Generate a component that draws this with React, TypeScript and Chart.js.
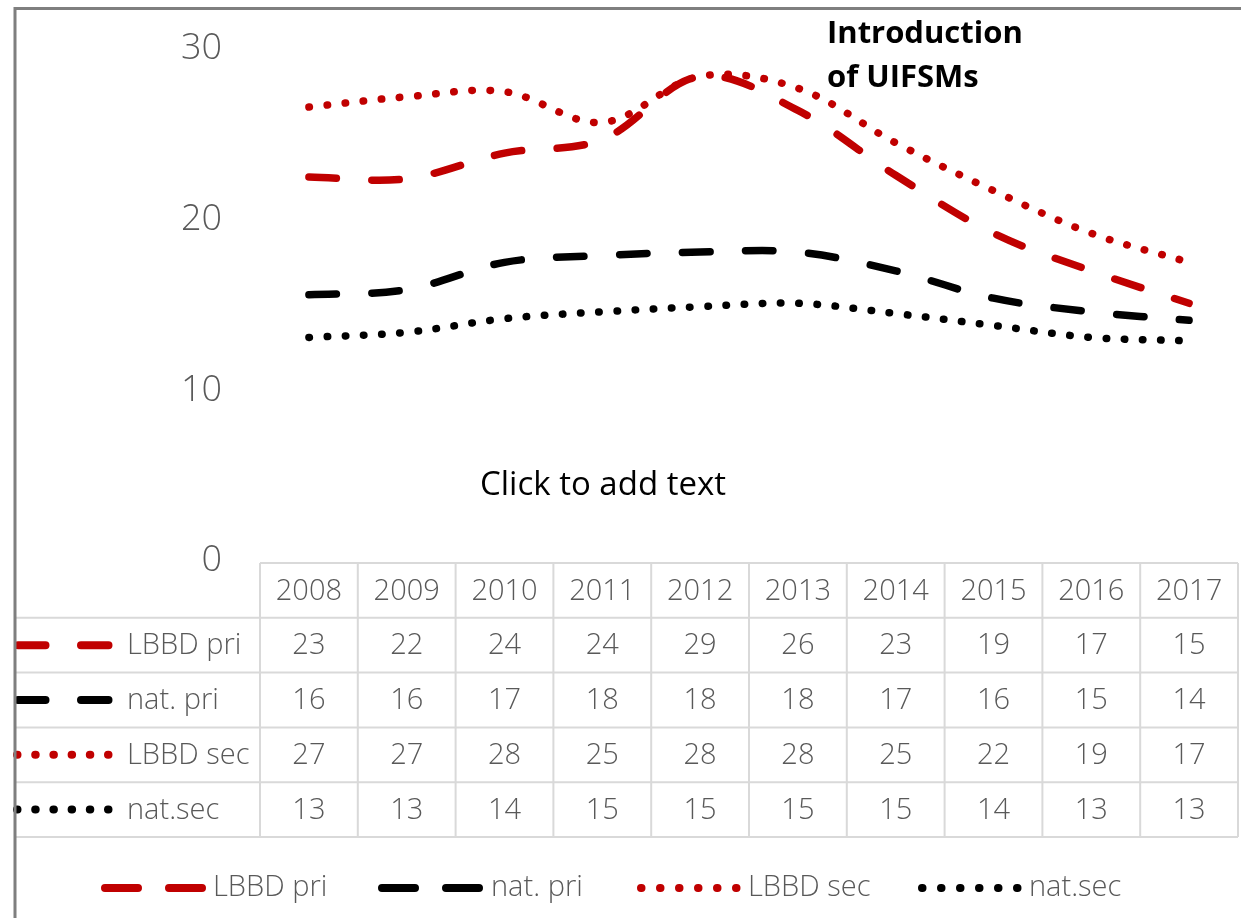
import React, { useEffect, useRef } from "react";
import { Chart, registerables } from "chart.js";

Chart.register(...registerables);

// ---- data ----
const years = ["2008", "2009", "2010", "2011", "2012", "2013", "2014", "2015", "2016", "2017"];
const seriesNames = ["LBBD pri", "nat. pri", "LBBD sec", "nat.sec"];

// plotted values
const lbbdPri = [22.5, 22.4, 23.9, 24.7, 28.4, 26.4, 22.6, 19.2, 17.0, 15.1];
const natPri = [15.6, 15.9, 17.5, 17.9, 18.1, 18.1, 17.0, 15.4, 14.6, 14.1];
const lbbdSec = [26.6, 27.2, 27.5, 25.7, 28.4, 27.7, 24.5, 21.7, 19.2, 17.5];
const natSec = [13.1, 13.4, 14.2, 14.6, 14.9, 15.1, 14.5, 13.8, 13.1, 12.9];

// values printed in the data table
const lbbdPriTable = ["23", "22", "24", "24", "29", "26", "23", "19", "17", "15"];
const natPriTable = ["16", "16", "17", "18", "18", "18", "17", "16", "15", "14"];
const lbbdSecTable = ["27", "27", "28", "25", "28", "28", "25", "22", "19", "17"];
const natSecTable = ["13", "13", "14", "15", "15", "15", "15", "14", "13", "13"];

const yMin = 0;
const yMax = 30;
const yStep = 10;

const annotationLines = ["Introduction", "of UIFSMs"];
const placeholderText = "Click to add text";

// ---- styles ----
const RED = "#C00000";
const BLACK = "#000000";
const GRAY_TEXT = "#595959";
const GRID = "#d9d9d9";
const FONT = "'Open Sans', 'DejaVu Sans', sans-serif";
const DASH = [27.5, 35.5];
const DOT = [0.5, 17.7];

const tableRows = [lbbdPriTable, natPriTable, lbbdSecTable, natSecTable];

// bottom legend placement (key start, text start)
const legendKeyX = [101, 378, 637, 918];
const legendTextX = [213, 491, 748, 1029];

function strokeKey(ctx: CanvasRenderingContext2D, ds: any, x0: number, x1: number, y: number, dash: number[]) {
  ctx.save();
  ctx.strokeStyle = ds.borderColor;
  ctx.lineWidth = 8;
  ctx.lineCap = "round";
  ctx.setLineDash(dash);
  ctx.beginPath();
  ctx.moveTo(x0, y);
  ctx.lineTo(x1, y);
  ctx.stroke();
  ctx.restore();
}

const decorPlugin = {
  id: "decor",
  afterDraw(chart: any) {
    const ctx: CanvasRenderingContext2D = chart.ctx;
    const x = chart.scales.x;
    const n = years.length;
    const colW = x.getPixelForValue(1) - x.getPixelForValue(0);
    const left = x.getPixelForValue(0) - colW / 2;
    const right = x.getPixelForValue(n - 1) + colW / 2;
    const tableTop = 563;
    const rowH = 54.8;
    const frameX = 15;

    // ---- data table grid ----
    ctx.save();
    ctx.strokeStyle = GRID;
    ctx.lineWidth = 2;
    ctx.beginPath();
    ctx.moveTo(left, tableTop);
    ctx.lineTo(right, tableTop);
    for (let k = 1; k <= 5; k++) {
      const yy = tableTop + rowH * k;
      ctx.moveTo(frameX, yy);
      ctx.lineTo(right, yy);
    }
    for (let i = 0; i <= n; i++) {
      const xx = left + colW * i;
      ctx.moveTo(xx, tableTop);
      ctx.lineTo(xx, tableTop + rowH * 5);
    }
    ctx.stroke();
    ctx.restore();

    // ---- table text ----
    ctx.save();
    ctx.fillStyle = GRAY_TEXT;
    ctx.font = `300 29px ${FONT}`;
    ctx.textAlign = "center";
    ctx.textBaseline = "middle";
    years.forEach((yr, i) => {
      ctx.fillText(yr, x.getPixelForValue(i), tableTop + rowH / 2 + 1);
    });
    tableRows.forEach((row, r) => {
      const yy = tableTop + rowH * (r + 1) + rowH / 2 + 1;
      row.forEach((v, i) => ctx.fillText(v, x.getPixelForValue(i), yy));
    });
    ctx.textAlign = "left";
    chart.data.datasets.forEach((ds: any, r: number) => {
      const yy = tableTop + rowH * (r + 1) + rowH / 2;
      const dotted = ds.borderDash[0] < 1;
      if (dotted) strokeKey(ctx, ds, 17, 109.5, yy, DOT);
      else strokeKey(ctx, ds, 18, 108.5, yy, DASH);
      ctx.fillStyle = GRAY_TEXT;
      ctx.fillText(seriesNames[r], 127, yy + 1);
    });
    ctx.restore();

    // ---- bottom legend ----
    ctx.save();
    ctx.font = `300 29px ${FONT}`;
    ctx.textBaseline = "middle";
    ctx.textAlign = "left";
    const ly = 888;
    chart.data.datasets.forEach((ds: any, r: number) => {
      const dotted = ds.borderDash[0] < 1;
      const kx = legendKeyX[r];
      if (dotted) strokeKey(ctx, ds, kx + 4, kx + 100.5, ly, [0.5, 18.5]);
      else strokeKey(ctx, ds, kx + 4, kx + 101, ly, [33, 31]);
      ctx.fillStyle = GRAY_TEXT;
      ctx.fillText(seriesNames[r], legendTextX[r], ly);
    });
    ctx.restore();

    // ---- annotation texts ----
    ctx.save();
    ctx.fillStyle = "#000";
    ctx.textAlign = "left";
    ctx.textBaseline = "alphabetic";
    ctx.font = `bold 31px ${FONT}`;
    ctx.fillText(annotationLines[0], 827, 43);
    ctx.fillText(annotationLines[1], 827, 87);
    ctx.font = `33px ${FONT}`;
    ctx.fillText(placeholderText, 480, 495);
    ctx.restore();

    // ---- outer frame (left and top) ----
    ctx.save();
    ctx.strokeStyle = "#7f7f7f";
    ctx.lineWidth = 3;
    ctx.beginPath();
    ctx.moveTo(frameX, chart.height);
    ctx.lineTo(frameX, 8.5);
    ctx.lineTo(chart.width, 8.5);
    ctx.stroke();
    ctx.restore();
  },
};

export default function App() {
  const ref = useRef<HTMLCanvasElement>(null);

  useEffect(() => {
    const canvas = ref.current;
    if (!canvas) return;
    const mk = (label: string, data: number[], color: string, dash: number[], order: number) => ({
      label,
      data,
      borderColor: color,
      backgroundColor: color,
      borderWidth: 7.5,
      borderDash: dash,
      borderCapStyle: "round" as const,
      borderJoinStyle: "round" as const,
      pointRadius: 0,
      pointHoverRadius: 0,
      tension: 0.35,
      fill: false,
      order,
    });
    const chart = new Chart(canvas, {
      type: "line",
      data: {
        labels: years,
        datasets: [
          mk(seriesNames[0], lbbdPri, RED, DASH, 4),
          mk(seriesNames[1], natPri, BLACK, DASH, 3),
          mk(seriesNames[2], lbbdSec, RED, DOT, 2),
          mk(seriesNames[3], natSec, BLACK, DOT, 1),
        ],
      },
      options: {
        responsive: false,
        animation: false,
        devicePixelRatio: 1,
        layout: { padding: { top: 49, bottom: 357, left: 0, right: 3 } },
        plugins: { legend: { display: false }, tooltip: { enabled: false } },
        scales: {
          x: {
            type: "category",
            display: false,
            offset: true,
            grid: { display: false },
          },
          y: {
            min: yMin,
            max: yMax,
            grid: { display: false, drawTicks: false },
            border: { display: false },
            afterFit: (s: any) => {
              s.width = 260;
              s.paddingTop = 0;
              s.paddingBottom = 0;
            },
            ticks: {
              stepSize: yStep,
              padding: 38,
              color: GRAY_TEXT,
              font: { family: FONT, size: 36, weight: "300" as any },
            },
          },
        },
      },
      plugins: [decorPlugin],
    });
    return () => chart.destroy();
  }, []);

  return (
    <div style={{ position: "absolute", left: 0, top: 0, width: 1241, height: 918, background: "#fff" }}>
      <canvas ref={ref} width={1241} height={918} />
    </div>
  );
}
